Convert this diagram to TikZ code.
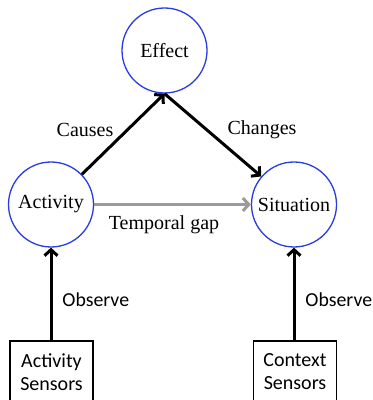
\documentclass[tikz,border=0pt]{standalone}
\usepackage{fontspec}
\setmainfont{Liberation Serif}
\newfontfamily\sensfont{Carlito}
\usetikzlibrary{arrows.meta, positioning}
\definecolor{ringblue}{RGB}{40,60,225}
\definecolor{gapgray}{RGB}{155,155,155}

\begin{document}
\begin{tikzpicture}[x=0.5pt, y=-0.5pt, font=\fontsize{10}{11.5}\selectfont,
    state/.style={circle, draw=ringblue, line width=0.65pt, minimum size=42.5pt, inner sep=0pt},
    sensor/.style={draw, line width=0.6pt, minimum width=41.5pt, minimum height=31pt, align=center, font=\sensfont\fontsize{10}{11.5}\selectfont},
    obs/.style={anchor=west, inner sep=0pt, font=\sensfont\fontsize{9.9}{11.5}\selectfont},
    link/.style={line width=1.5pt, -{Straight Barb[length=3pt, width=6.5pt]}}]
    \useasboundingbox (0,0) rectangle (372,400);
    \clip (0,0) rectangle (372,399);
    \node[state] (eff) at (164.5,50.5) {Effect};
    \node[state] (act) at (51,204.5) {Activity};
    \node[state] (sit) at (294,204.5) {Situation};
    \node[sensor] (actsens) at (51.5,372) {Activity\\Sensors};
    \node[sensor] (ctxsens) at (295,372) {Context\\Sensors};
    \draw[link] (act) -- (eff.south);
    \draw[link] (eff.south) -- (sit);
    \draw[link, gapgray] (act) -- (sit);
    \draw[link] (actsens.north -| act) -- (act);
    \draw[link] (ctxsens.north -| sit) -- (sit);
    \node (causes) at (85,130) {Causes};
    \node (changes) at (262,130) {Changes};
    \node (gap) at (164,225) {Temporal gap};
    \node[obs] (obsact) at (62,300) {Observe};
    \node[obs] (obsctx) at (305,300) {Observe};
\end{tikzpicture}
\end{document}
